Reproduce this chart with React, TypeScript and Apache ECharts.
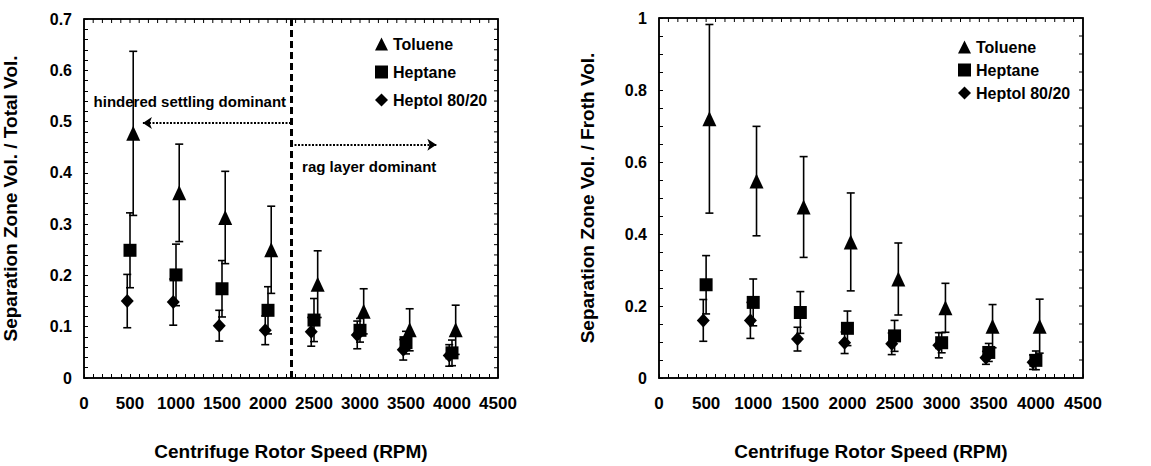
import React, { useEffect, useRef } from "react";
import * as echarts from "echarts";

// Rotor speeds (RPM) of the plotted points, with the small horizontal offsets seen in the figure
const tolueneRpm = [535, 1035, 1535, 2035, 2540, 3040, 3540, 4040];
const heptaneRpm = [500, 1000, 1500, 2000, 2500, 3000, 3500, 4000];
const heptolRpm = [470, 970, 1470, 1970, 2470, 2970, 3470, 3970];

// Left panel: separation zone vol. / total vol.
const tolueneTotal = [0.477, 0.361, 0.313, 0.25, 0.183, 0.13, 0.094, 0.094];
const tolueneTotalErr = [0.16, 0.095, 0.09, 0.085, 0.065, 0.044, 0.041, 0.048];
const heptaneTotal = [0.249, 0.201, 0.174, 0.132, 0.113, 0.093, 0.069, 0.049];
const heptaneTotalErr = [0.073, 0.06, 0.055, 0.046, 0.042, 0.023, 0.022, 0.025];
const heptolTotal = [0.15, 0.148, 0.102, 0.093, 0.09, 0.084, 0.055, 0.044];
const heptolTotalErr = [0.052, 0.045, 0.03, 0.028, 0.028, 0.027, 0.02, 0.021];

// Right panel: separation zone vol. / froth vol.
const tolueneFroth = [0.72, 0.547, 0.475, 0.378, 0.275, 0.195, 0.144, 0.144];
const tolueneFrothErr = [0.262, 0.152, 0.14, 0.136, 0.1, 0.068, 0.06, 0.075];
const heptaneFroth = [0.259, 0.21, 0.182, 0.138, 0.117, 0.098, 0.071, 0.049];
const heptaneFrothErr = [0.081, 0.065, 0.058, 0.048, 0.043, 0.028, 0.025, 0.026];
const heptolFroth = [0.16, 0.16, 0.108, 0.098, 0.095, 0.091, 0.056, 0.044];
const heptolFrothErr = [0.058, 0.05, 0.033, 0.03, 0.03, 0.035, 0.018, 0.02];

const seriesNames = ["Toluene", "Heptane", "Heptol 80/20"];
const seriesSymbols = ["triangle", "rect", "diamond"];

// Axis ranges / steps
const xMax = 4500;
const xMinorStep = 100;
const leftYMax = 0.7;
const leftYMinorStep = 0.02;
const rightYMax = 1;
const rightYMinorStep = 0.05;

// Regime boundary and annotations (left panel)
const boundaryRpm = 2250;
const hinderedArrow = { y: 0.497, toRpm: 640 };
const ragArrow = { y: 0.455, toRpm: 3830 };
const hinderedLabel = { x: 1150, y: 0.54, text: "hindered settling dominant" };
const ragLabel = { x: 3100, y: 0.412, text: "rag layer dominant" };

const FONT = "'Liberation Sans', Arial, sans-serif";

const GRIDS = [
  { left: 83, top: 19, width: 415, height: 374, show: true, borderColor: "#000", borderWidth: 1.5, backgroundColor: "rgba(0,0,0,0)" },
  { left: 659, top: 18, width: 424, height: 375, show: true, borderColor: "#000", borderWidth: 1.5, backgroundColor: "rgba(0,0,0,0)" },
];

function pts(xs: number[], ys: number[]) {
  return xs.map((x, i) => [x, ys[i]]);
}
function errs(xs: number[], ys: number[], es: number[]) {
  return xs.map((x, i) => [x, ys[i] - es[i], ys[i] + es[i]]);
}

const renderErr = (params: any, api: any) => {
  const x = api.value(0);
  const lo = api.coord([x, api.value(1)]);
  const hi = api.coord([x, api.value(2)]);
  const cap = 4;
  const style = { stroke: "#000", lineWidth: 1.6 };
  return {
    type: "group",
    children: [
      { type: "line", shape: { x1: lo[0], y1: lo[1], x2: hi[0], y2: hi[1] }, style },
      { type: "line", shape: { x1: hi[0] - cap, y1: hi[1], x2: hi[0] + cap, y2: hi[1] }, style },
      { type: "line", shape: { x1: lo[0] - cap, y1: lo[1], x2: lo[0] + cap, y2: lo[1] }, style },
    ],
  };
};

export default function App() {
  const ref = useRef<HTMLDivElement>(null);
  useEffect(() => {
    document.body.style.margin = "0";
    const chart = echarts.init(ref.current!, undefined, { renderer: "svg" });

    const axisLine = { show: true, onZero: false, lineStyle: { color: "#000", width: 1.5 } };
    const tick = { show: true, inside: true, length: 4, lineStyle: { color: "#000", width: 1 } };
    const xLabelStyle = { color: "#000", fontWeight: "bold", fontSize: 17, fontFamily: FONT };
    const yLabelStyle = { color: "#000", fontWeight: "bold", fontSize: 16, fontFamily: FONT };
    const nameStyle = { color: "#000", fontWeight: "bold", fontSize: 19, fontFamily: FONT };

    const xAxisFor = (gi: number) => ({
      type: "value",
      gridIndex: gi,
      min: 0,
      max: xMax,
      interval: 500,
      axisLine,
      axisTick: tick,
      minorTick: { show: true, splitNumber: 5, length: 4, lineStyle: { color: "#000", width: 1 } },
      splitLine: { show: false },
      axisLabel: { ...xLabelStyle, margin: 17, formatter: (v: number) => String(v) },
      name: "Centrifuge Rotor Speed (RPM)",
      nameLocation: "middle",
      nameGap: 64,
      nameTextStyle: nameStyle,
    });
    const yAxisFor = (gi: number, max: number, interval: number, minorSplit: number, name: string, gap: number) => ({
      type: "value",
      gridIndex: gi,
      min: 0,
      max,
      interval,
      axisLine,
      axisTick: tick,
      minorTick: { show: true, splitNumber: minorSplit, length: 4, lineStyle: { color: "#000", width: 1 } },
      splitLine: { show: false },
      axisLabel: { ...yLabelStyle, margin: 12, formatter: (v: number) => String(Math.round(v * 10) / 10) },
      name,
      nameLocation: "middle",
      nameGap: gap,
      nameTextStyle: nameStyle,
    });

    const leftVals = [tolueneTotal, heptaneTotal, heptolTotal];
    const leftErrs = [tolueneTotalErr, heptaneTotalErr, heptolTotalErr];
    const rightVals = [tolueneFroth, heptaneFroth, heptolFroth];
    const rightErrs = [tolueneFrothErr, heptaneFrothErr, heptolFrothErr];
    const xs = [tolueneRpm, heptaneRpm, heptolRpm];
    const sizes: any[] = [[14, 15], [13, 13], [13, 14]];

    const series: any[] = [];
    [0, 1].forEach((gi) => {
      const vals = gi === 0 ? leftVals : rightVals;
      const es = gi === 0 ? leftErrs : rightErrs;
      seriesNames.forEach((nm, k) => {
        series.push({
          type: "custom",
          name: nm + " err " + gi,
          xAxisIndex: gi,
          yAxisIndex: gi,
          renderItem: renderErr,
          data: errs(xs[k], vals[k], es[k]),
          z: 2,
          silent: true,
        });
      });
      seriesNames.forEach((nm, k) => {
        const s: any = {
          type: "scatter",
          name: nm,
          xAxisIndex: gi,
          yAxisIndex: gi,
          symbol: seriesSymbols[k],
          symbolSize: sizes[k],
          itemStyle: { color: "#000", opacity: 1 },
          data: pts(xs[k], vals[k]),
          z: 3,
        };
        if (gi === 0 && k === 0) {
          s.markLine = {
            silent: true,
            animation: false,
            label: { show: false },
            data: [
              [
                { coord: [boundaryRpm, 0], symbol: "none" },
                { coord: [boundaryRpm, leftYMax], symbol: "none", lineStyle: { color: "#000", width: 3, type: [7, 4] } },
              ],
              [
                { coord: [boundaryRpm, hinderedArrow.y], symbol: "none" },
                { coord: [hinderedArrow.toRpm, hinderedArrow.y], symbol: "arrow", symbolSize: 9, lineStyle: { color: "#000", width: 2, type: [2, 1.5] } },
              ],
              [
                { coord: [boundaryRpm, ragArrow.y], symbol: "none" },
                { coord: [ragArrow.toRpm, ragArrow.y], symbol: "arrow", symbolSize: 9, lineStyle: { color: "#000", width: 2, type: [2, 1.5] } },
              ],
            ],
          };
          s.markPoint = {
            silent: true,
            animation: false,
            symbol: "circle",
            symbolSize: 1,
            itemStyle: { color: "rgba(0,0,0,0)" },
            label: {
              show: true,
              position: "inside",
              color: "#000",
              fontWeight: "bold",
              fontSize: 15,
              fontFamily: FONT,
            },
            data: [
              { coord: [hinderedLabel.x, hinderedLabel.y], label: { formatter: hinderedLabel.text } },
              { coord: [ragLabel.x, ragLabel.y], label: { formatter: ragLabel.text } },
            ],
          };
        }
        series.push(s);
      });
    });

    const legendData = seriesNames.map((n, k) => ({ name: n, icon: seriesSymbols[k] }));
    const legendText = { color: "#000", fontWeight: "bold", fontSize: 16, fontFamily: FONT };

    chart.setOption({
      animation: false,
      backgroundColor: "#fff",
      grid: GRIDS,
      xAxis: [xAxisFor(0), xAxisFor(1)],
      yAxis: [
        yAxisFor(0, leftYMax, 0.1, 5, "Separation Zone Vol. / Total Vol.", 64),
        yAxisFor(1, rightYMax, 0.2, 4, "Separation Zone Vol. / Froth Vol.", 62),
      ],
      legend: [
        { orient: "vertical", left: 370, top: 31, itemWidth: 13, itemHeight: 13, itemGap: 12, textStyle: legendText, data: legendData, selectedMode: false },
        { orient: "vertical", left: 953, top: 34, itemWidth: 13, itemHeight: 13, itemGap: 7, textStyle: legendText, data: legendData, selectedMode: false },
      ],
      series,
    });

    // Top and right frame edges with inward ticks, placed through the axes' own scales
    const frame: any[] = [];
    const frameSpec = [
      { gi: 0, yMax: leftYMax, yStep: leftYMinorStep },
      { gi: 1, yMax: rightYMax, yStep: rightYMinorStep },
    ];
    frameSpec.forEach(({ gi, yMax, yStep }) => {
      const f = { gridIndex: gi };
      const tl = chart.convertToPixel(f, [0, yMax]) as number[];
      const tr = chart.convertToPixel(f, [xMax, yMax]) as number[];
      const br = chart.convertToPixel(f, [xMax, 0]) as number[];
      if (!tl || !tr || !br) return;
      frame.push({ type: "polyline", silent: true, z: 10, shape: { points: [tl, tr, br] }, style: { stroke: "#000", lineWidth: 1.5, fill: null } });
      const nx = Math.round(xMax / xMinorStep);
      for (let i = 1; i < nx; i++) {
        const p = chart.convertToPixel(f, [i * xMinorStep, yMax]) as number[];
        frame.push({ type: "line", silent: true, z: 10, shape: { x1: p[0], y1: p[1], x2: p[0], y2: p[1] + 4 }, style: { stroke: "#000", lineWidth: 1 } });
      }
      const ny = Math.round(yMax / yStep);
      for (let i = 1; i < ny; i++) {
        const p = chart.convertToPixel(f, [xMax, i * yStep]) as number[];
        frame.push({ type: "line", silent: true, z: 10, shape: { x1: p[0], y1: p[1], x2: p[0] - 4, y2: p[1] }, style: { stroke: "#000", lineWidth: 1 } });
      }
    });
    chart.setOption({ graphic: frame });

    return () => chart.dispose();
  }, []);
  return <div ref={ref} style={{ width: 1151, height: 466 }} />;
}
